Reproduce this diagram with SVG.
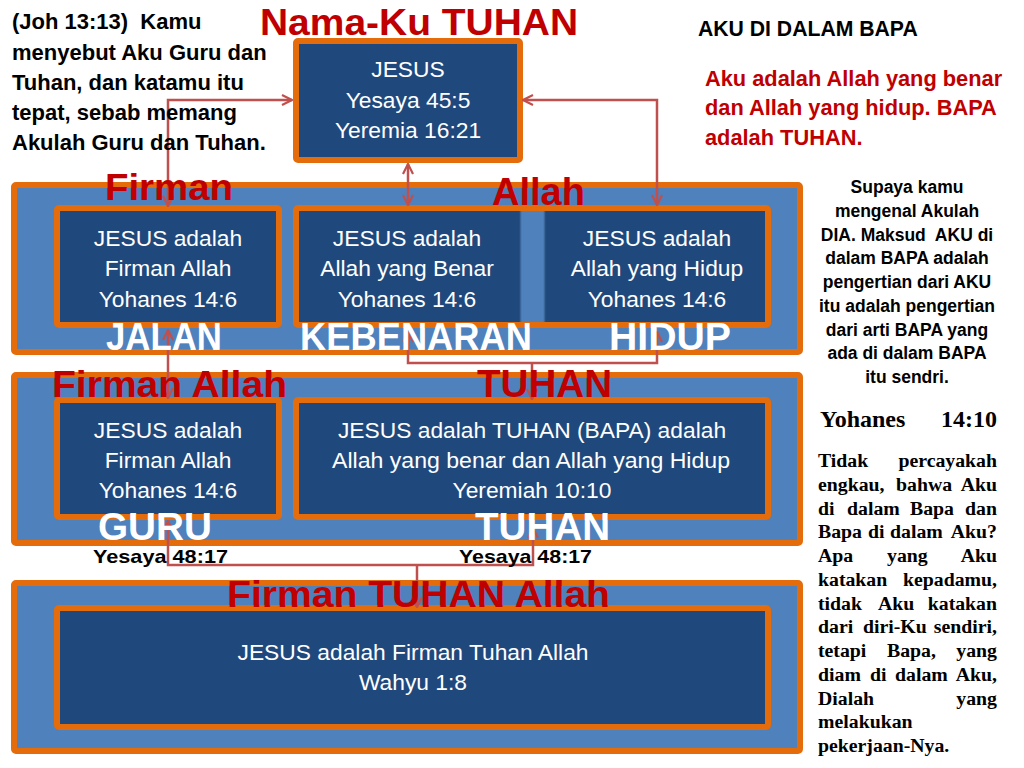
<svg xmlns="http://www.w3.org/2000/svg" width="1024" height="768" viewBox="0 0 1024 768">
<defs>
<style>
.band{fill:#4F81BD;stroke:#E46C0A;stroke-width:6}
.box{fill:#1F497D;stroke:#E46C0A;stroke-width:6}
.bt{font-family:"Liberation Sans",Arial,sans-serif;font-size:22.8px;fill:#FFFFFF;text-anchor:middle}
.red{font-family:"Liberation Sans",Arial,sans-serif;font-weight:bold;fill:#C00000}
.wl{font-family:"Liberation Sans",Arial,sans-serif;font-weight:bold;fill:#FFFFFF}
.blk{font-family:"Liberation Sans",Arial,sans-serif;font-weight:bold;fill:#000000}
.tm{font-family:"Liberation Serif","Times New Roman",serif;font-weight:bold;fill:#000000}
.conn{fill:none;stroke:#C0504D;stroke-width:2.5}
</style>
<marker id="ah" viewBox="0 0 12 12" refX="11" refY="6" markerWidth="12" markerHeight="12" markerUnits="userSpaceOnUse" orient="auto-start-reverse">
<path d="M1,1 L11,6 L1,11" fill="none" stroke="#C0504D" stroke-width="2.2"/>
</marker>
</defs>
<rect width="1024" height="768" fill="#FFFFFF"/>

<g id="band1"><rect class="band" x="14" y="185" width="786" height="167" rx="2"/></g>
<g id="band2"><rect class="band" x="14" y="375" width="786" height="168" rx="2"/></g>
<g id="band3"><rect class="band" x="14" y="583" width="786" height="168" rx="2"/></g>

<g id="node-top">
<rect class="box" x="296" y="41" width="224" height="119" rx="2"/>
<text class="bt" x="408" y="77">JESUS</text>
<text class="bt" x="408" y="108">Yesaya 45:5</text>
<text class="bt" x="408" y="138">Yeremia 16:21</text>
</g>

<g id="node-jalan">
<rect class="box" x="57" y="208" width="222" height="117" rx="2"/>
<text class="bt" x="168" y="246">JESUS adalah</text>
<text class="bt" x="168" y="276">Firman Allah</text>
<text class="bt" x="168" y="307">Yohanes 14:6</text>
</g>

<g id="node-kebenaran-hidup">
<rect class="box" x="296" y="208" width="472" height="117" rx="2"/>
<rect x="520" y="211" width="25" height="111" fill="#4F81BD"/>
<line x1="520.5" y1="211" x2="520.5" y2="322" stroke="#3B6699" stroke-width="1.5"/>
<line x1="544.5" y1="211" x2="544.5" y2="322" stroke="#3B6699" stroke-width="1.5"/>
<text class="bt" x="407" y="246">JESUS adalah</text>
<text class="bt" x="407" y="276">Allah yang Benar</text>
<text class="bt" x="407" y="307">Yohanes 14:6</text>
<text class="bt" x="657" y="246">JESUS adalah</text>
<text class="bt" x="657" y="276">Allah yang Hidup</text>
<text class="bt" x="657" y="307">Yohanes 14:6</text>
</g>

<g id="node-guru">
<rect class="box" x="57" y="400" width="222" height="117" rx="2"/>
<text class="bt" x="168" y="438">JESUS adalah</text>
<text class="bt" x="168" y="468">Firman Allah</text>
<text class="bt" x="168" y="498">Yohanes 14:6</text>
</g>

<g id="node-tuhan">
<rect class="box" x="296" y="400" width="472" height="117" rx="2"/>
<text class="bt" x="532" y="438">JESUS adalah TUHAN (BAPA) adalah</text>
<text class="bt" x="531" y="468" textLength="398" lengthAdjust="spacingAndGlyphs">Allah yang benar dan Allah yang Hidup</text>
<text class="bt" x="532" y="498">Yeremiah 10:10</text>
</g>

<g id="node-firman-tuhan-allah">
<rect class="box" x="57" y="608" width="711" height="119" rx="2"/>
<text class="bt" x="413" y="660">JESUS adalah Firman Tuhan Allah</text>
<text class="bt" x="413" y="690">Wahyu 1:8</text>
</g>

<g id="connectors">
<polyline class="conn" points="168,206 168,100 292,100" marker-start="url(#ah)" marker-end="url(#ah)"/>
<polyline class="conn" points="523,100 657,100 657,205" marker-start="url(#ah)" marker-end="url(#ah)"/>
<line class="conn" x1="408" y1="164" x2="408" y2="205" marker-start="url(#ah)" marker-end="url(#ah)"/>
<line class="conn" x1="168" y1="330" x2="168" y2="398" marker-start="url(#ah)" marker-end="url(#ah)"/>
<polyline class="conn" points="408,332 408,363 657,363 657,332" marker-start="url(#ah)" marker-end="url(#ah)"/>
<line class="conn" x1="532" y1="363" x2="532" y2="399" marker-end="url(#ah)"/>
<polyline class="conn" points="168,521 168,565 533,565 533,528" marker-start="url(#ah)" marker-end="url(#ah)"/>
<line class="conn" x1="417" y1="565" x2="417" y2="607" marker-end="url(#ah)"/>
</g>

<g id="labels">
<text class="red" x="260" y="35" font-size="36" textLength="318" lengthAdjust="spacingAndGlyphs">Nama-Ku TUHAN</text>
<text class="red" x="105" y="200" font-size="37" textLength="128" lengthAdjust="spacingAndGlyphs">Firman</text>
<text class="red" x="492" y="205" font-size="38" textLength="93" lengthAdjust="spacingAndGlyphs">Allah</text>
<text class="wl" x="106" y="350" font-size="38" textLength="116" lengthAdjust="spacingAndGlyphs">JALAN</text>
<text class="wl" x="300" y="350" font-size="38" textLength="232" lengthAdjust="spacingAndGlyphs">KEBENARAN</text>
<text class="wl" x="609" y="350" font-size="38" textLength="122" lengthAdjust="spacingAndGlyphs">HIDUP</text>
<text class="red" x="52" y="397" font-size="37" textLength="235" lengthAdjust="spacingAndGlyphs">Firman Allah</text>
<text class="red" x="477" y="397" font-size="38" textLength="135" lengthAdjust="spacingAndGlyphs">TUHAN</text>
<text class="wl" x="98" y="540" font-size="38" textLength="114" lengthAdjust="spacingAndGlyphs">GURU</text>
<text class="wl" x="475" y="540" font-size="38" textLength="135" lengthAdjust="spacingAndGlyphs">TUHAN</text>
<text class="blk" x="93" y="563" font-size="19" textLength="135" lengthAdjust="spacingAndGlyphs">Yesaya 48:17</text>
<text class="blk" x="459" y="563" font-size="19" textLength="133" lengthAdjust="spacingAndGlyphs">Yesaya 48:17</text>
<text class="red" x="227" y="607" font-size="37" textLength="383" lengthAdjust="spacingAndGlyphs">Firman TUHAN Allah</text>
</g>

<g id="text-joh" class="blk" font-size="22">
<text x="12" y="29">(Joh 13:13)&#160; Kamu</text>
<text x="12" y="59.5">menyebut Aku Guru dan</text>
<text x="12" y="89.5">Tuhan, dan katamu itu</text>
<text x="12" y="120">tepat, sebab memang</text>
<text x="12" y="150">Akulah Guru dan Tuhan.</text>
</g>

<g id="text-aku">
<text class="blk" x="698" y="36" font-size="21.2">AKU DI DALAM BAPA</text>
<text class="red" x="705" y="86" font-size="21.8">Aku adalah Allah yang benar</text>
<text class="red" x="705" y="115" font-size="21.8">dan Allah yang hidup. BAPA</text>
<text class="red" x="705" y="145" font-size="21.8">adalah TUHAN.</text>
</g>

<g id="text-supaya" class="blk" font-size="17.5" text-anchor="middle">
<text x="907" y="193">Supaya kamu</text>
<text x="907" y="216.75">mengenal Akulah</text>
<text x="907" y="240.5">DIA. Maksud&#160; AKU di</text>
<text x="907" y="264.25">dalam BAPA adalah</text>
<text x="907" y="288">pengertian dari AKU</text>
<text x="907" y="311.75">itu adalah pengertian</text>
<text x="907" y="335.5">dari arti BAPA yang</text>
<text x="907" y="359.25">ada di dalam BAPA</text>
<text x="907" y="383">itu sendri.</text>
</g>

<g id="text-yohanes">
<text class="tm" x="820" y="427" style="font-size:24px">Yohanes</text>
<text class="tm" x="997" y="427" style="font-size:24px" text-anchor="end">14:10</text>
<g class="tm" font-size="19.8">
<text x="818" y="467">Tidak</text><text x="997" y="467" text-anchor="end">percayakah</text>
<text x="818" y="490.75">engkau,</text><text x="896" y="490.75">bahwa</text><text x="997" y="490.75" text-anchor="end">Aku</text>
<text x="818" y="514.5">di</text><text x="847" y="514.5">dalam</text><text x="910" y="514.5">Bapa</text><text x="997" y="514.5" text-anchor="end">dan</text>
<text x="818" y="538.25">Bapa</text><text x="868" y="538.25">di</text><text x="890" y="538.25">dalam</text><text x="997" y="538.25" text-anchor="end">Aku?</text>
<text x="818" y="562">Apa</text><text x="887" y="562">yang</text><text x="997" y="562" text-anchor="end">Aku</text>
<text x="818" y="585.75">katakan</text><text x="997" y="585.75" text-anchor="end">kepadamu,</text>
<text x="818" y="609.5">tidak</text><text x="878" y="609.5">Aku</text><text x="997" y="609.5" text-anchor="end">katakan</text>
<text x="818" y="633.25">dari</text><text x="863" y="633.25">diri-Ku</text><text x="997" y="633.25" text-anchor="end">sendiri,</text>
<text x="818" y="657">tetapi</text><text x="887" y="657">Bapa,</text><text x="997" y="657" text-anchor="end">yang</text>
<text x="818" y="680.75">diam</text><text x="870" y="680.75">di</text><text x="895" y="680.75">dalam</text><text x="997" y="680.75" text-anchor="end">Aku,</text>
<text x="818" y="704.5">Dialah</text><text x="997" y="704.5" text-anchor="end">yang</text>
<text x="818" y="728.25">melakukan</text>
<text x="818" y="752">pekerjaan-Nya.</text>
</g>
</g>
</svg>
